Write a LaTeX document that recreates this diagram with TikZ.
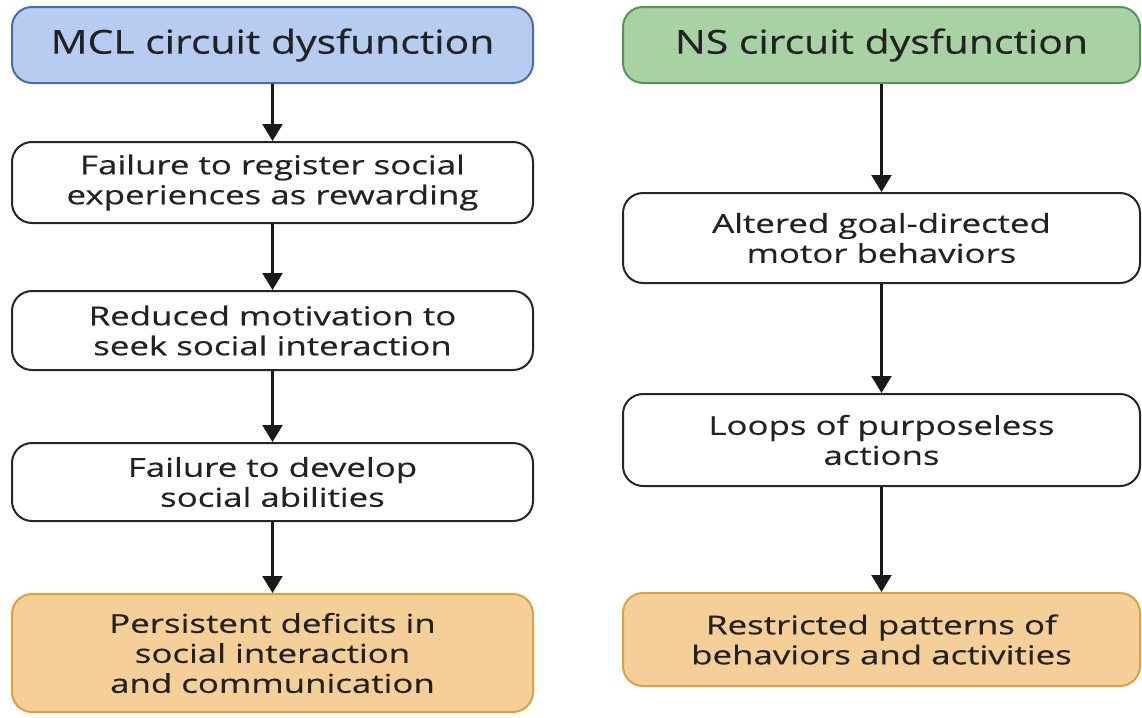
\documentclass[tikz,border=0pt]{standalone}
\usepackage{fontspec}
\setmainfont{Open Sans}[FakeStretch=1.34, FakeBold=0.4]
\newfontfamily\headfont{Open Sans}[FakeStretch=1.24, FakeBold=0.4]
\usepackage{xcolor}
\definecolor{mclfill}{RGB}{182,204,240}
\definecolor{mcldraw}{RGB}{70,110,175}
\definecolor{nsfill}{RGB}{168,210,164}
\definecolor{nsdraw}{RGB}{88,150,88}
\definecolor{outfill}{RGB}{245,207,152}
\definecolor{outdraw}{RGB}{222,160,64}
\definecolor{txt}{RGB}{34,34,34}
\usepackage{tikz}
\usetikzlibrary{arrows.meta,positioning}
\tikzset{
  box/.style={rectangle, rounded corners=10pt, line width=1pt, align=center,
              inner sep=2pt, text=txt, font=\fontsize{13}{15}\selectfont},
}

\begin{document}
\begin{tikzpicture}[
  head/.style={box, fill=#1fill, draw=#1draw, minimum height=38pt,
               font=\headfont\fontsize{16.5}{19}\selectfont},
  stepbox/.style={box, draw=black!85, fill=white},
  outbox/.style={box, fill=outfill, draw=outdraw},
  arr/.style={-{Triangle[width=10pt,length=8.5pt]}, line width=1.1pt, black!90},
]
  \useasboundingbox (0,0) rectangle (571pt,-359pt);
  % left column
  \node[head=mcl, minimum width=260.5pt] (mcl) at (136.25pt,-22.5pt) {MCL circuit dysfunction};
  \node[stepbox, minimum width=260.5pt, minimum height=40.5pt, below=28.5pt of mcl] (l1)
    {Failure to register social\\experiences as rewarding};
  \node[stepbox, minimum width=260.5pt, minimum height=39.5pt, below=33pt of l1] (l2)
    {Reduced motivation to\\seek social interaction};
  \node[stepbox, minimum width=260.5pt, minimum height=39pt, below=35.5pt of l2] (l3)
    {Failure to develop\\social abilities};
  \node[outbox, minimum width=260.5pt, minimum height=59pt, below=35.5pt of l3] (lout)
    {Persistent deficits in\\social interaction\\and communication};
  % right column
  \node[head=ns, minimum width=258.5pt] (ns) at (440.75pt,-22.5pt) {NS circuit dysfunction};
  \node[stepbox, minimum width=258.5pt, minimum height=45pt, below=54pt of ns] (r1)
    {Altered goal-directed\\motor behaviors};
  \node[stepbox, minimum width=258.5pt, minimum height=46pt, below=54.5pt of r1] (r2)
    {Loops of purposeless\\actions};
  \node[outbox, minimum width=258.5pt, minimum height=46.5pt, below=52.5pt of r2] (rout)
    {Restricted patterns of\\behaviors and activities};
  \foreach \a/\b in {mcl/l1, l1/l2, l2/l3, l3/lout, ns/r1, r1/r2, r2/rout}
    \draw[arr] (\a) -- (\b);
\end{tikzpicture}
\end{document}
